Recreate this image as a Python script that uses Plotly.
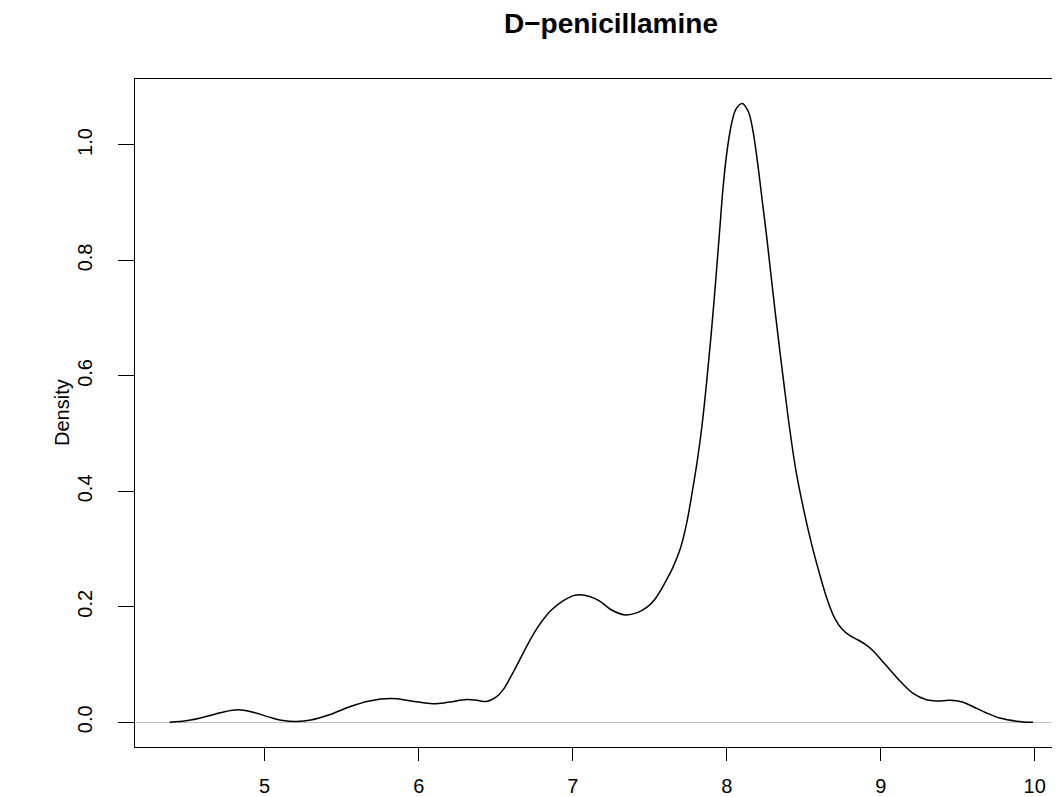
import plotly.graph_objects as go

# Density estimate (x = value, y = density)
density_x = [4.383, 4.50, 4.62, 4.72, 4.827, 4.93, 5.03, 5.12, 5.206, 5.30,
             5.42, 5.552, 5.68, 5.823, 5.95, 6.093, 6.20, 6.31, 6.38, 6.44,
             6.50, 6.55, 6.60, 6.65, 6.70, 6.75, 6.80, 6.86, 6.93, 7.00,
             7.045, 7.11, 7.175, 7.25, 7.338, 7.42, 7.48, 7.53, 7.57, 7.61,
             7.65, 7.70, 7.74, 7.78, 7.81, 7.84, 7.87, 7.90, 7.933, 7.955,
             7.976, 8.00, 8.03, 8.06, 8.10, 8.14, 8.17, 8.20, 8.23, 8.26,
             8.30, 8.344, 8.38, 8.409, 8.45, 8.50, 8.55, 8.60, 8.65, 8.70,
             8.75, 8.80, 8.85, 8.90, 8.95, 9.03, 9.123, 9.21, 9.297, 9.37,
             9.448, 9.53, 9.60, 9.68, 9.773, 9.88, 9.989]
density_y = [0.000, 0.003, 0.010, 0.017, 0.0216, 0.017, 0.009, 0.003, 0.0014, 0.004,
             0.013, 0.027, 0.037, 0.041, 0.037, 0.032, 0.035, 0.0395, 0.038, 0.036,
             0.043, 0.057, 0.080, 0.105, 0.131, 0.155, 0.175, 0.194, 0.209, 0.219,
             0.221, 0.218, 0.210, 0.195, 0.186, 0.190, 0.199, 0.212, 0.228, 0.247,
             0.268, 0.302, 0.345, 0.405, 0.455, 0.515, 0.590, 0.675, 0.780, 0.855,
             0.925, 0.985, 1.035, 1.062, 1.072, 1.058, 1.025, 0.970, 0.905, 0.840,
             0.745, 0.645, 0.568, 0.508, 0.435, 0.368, 0.310, 0.260, 0.215, 0.181,
             0.161, 0.150, 0.143, 0.135, 0.124, 0.100, 0.072, 0.050, 0.039, 0.037,
             0.038, 0.035, 0.027, 0.017, 0.0073, 0.002, 0.000]

x_ticks = [5, 6, 7, 8, 9, 10]
y_ticks = [0.0, 0.2, 0.4, 0.6, 0.8, 1.0]
y_tick_labels = ["0.0", "0.2", "0.4", "0.6", "0.8", "1.0"]
title_text = "D\u2212penicillamine"
y_title = "Density"

FONT = "Liberation Sans, Arial, Helvetica, sans-serif"

fig = go.Figure()
fig.add_trace(go.Scatter(
    x=density_x, y=density_y, mode="lines",
    line=dict(color="black", width=1.5, shape="spline", smoothing=1.0),
    hoverinfo="skip", showlegend=False,
))

# page body has an 8px margin, so the figure is offset by (8, 8)
fig.update_layout(
    width=1052, height=789,
    margin=dict(l=127, r=0, t=71, b=50),
    paper_bgcolor="white", plot_bgcolor="white",
    font=dict(family=FONT, size=20, color="black"),
    showlegend=False,
    xaxis=dict(
        range=[4.158, 10.164], tickvals=x_ticks, ticktext=[str(v) for v in x_ticks],
        showgrid=False, zeroline=False, automargin=False,
        showline=True, linecolor="black", linewidth=1.3, mirror=True,
        ticks="outside", ticklen=13, tickwidth=1.3, tickcolor="black",
        ticklabelstandoff=8,
        tickfont=dict(family=FONT, size=20, color="black"),
    ),
    yaxis=dict(
        range=[-0.0428, 1.1143], tickvals=y_ticks, ticktext=y_tick_labels,
        showgrid=False, zeroline=True, zerolinecolor="#bebebe", zerolinewidth=1,
        automargin=False,
        showline=True, linecolor="black", linewidth=1.3, mirror=False,
        ticks="outside", ticklen=16, tickwidth=1.3, tickcolor="black",
        tickangle=-90, ticklabelstandoff=18,
        tickfont=dict(family=FONT, size=20, color="black"),
    ),
    annotations=[
        dict(text="<b>" + title_text + "</b>", xref="paper", yref="paper",
             x=(611 - 135) / 925, y=1 + (79 - 24) / 668, xanchor="center", yanchor="middle",
             showarrow=False, font=dict(family=FONT, size=28, color="black")),
        dict(text=y_title, xref="paper", yref="paper",
             x=(62 - 135) / 925, y=0.5, xanchor="center", yanchor="middle",
             textangle=-90, showarrow=False,
             font=dict(family=FONT, size=20, color="black")),
    ],
)

fig.write_html("out.html")
